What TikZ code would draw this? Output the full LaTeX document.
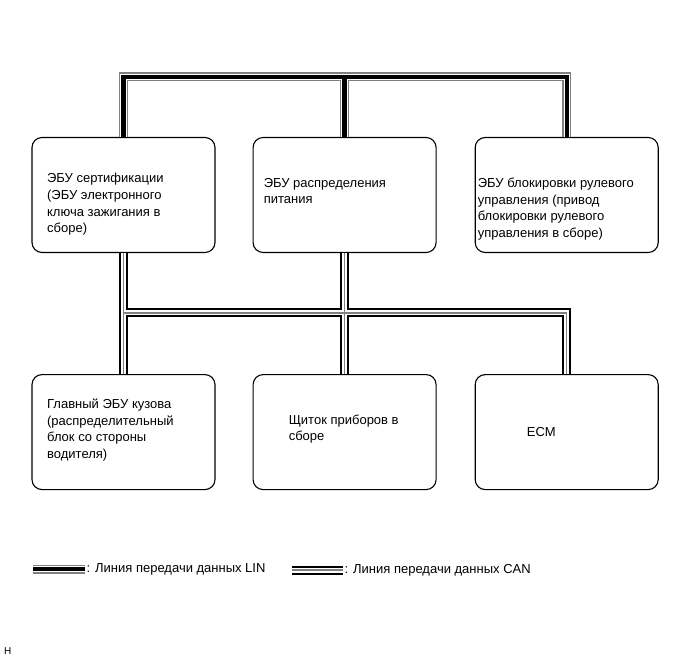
\documentclass[tikz,border=0pt]{standalone}
\usepackage{fontspec}
\setmainfont{Liberation Sans}
\usepackage{tikz}
\usetikzlibrary{positioning}

\tikzset{
  ecubox/.style={draw, rounded corners=10pt, line width=1.1pt, minimum width=183pt, minimum height=115pt, inner sep=0pt},
  ecutext/.style={align=left, inner sep=0pt, font=\fontsize{13}{16.6}\selectfont},
  linbus/.style={preaction={draw=black!50, line width=9pt}, preaction={draw=white, line width=6.4pt}, draw=black, line width=4.4pt},
  canbus/.style={preaction={draw=black, line width=9pt}, preaction={draw=white, line width=5pt}, draw=black!50, line width=1.5pt}
}

\begin{document}
\begin{tikzpicture}[x=1pt, y=-1pt]
    \useasboundingbox (0,0) rectangle (691,660);

    \node[ecubox] (cert) at (123.5,195) {};
    \node[ecubox, right=37pt of cert] (power) {};
    \node[ecubox, right=38pt of power] (lock) {};
    \node[ecubox, below=121pt of cert] (body) {};
    \node[ecubox, below=121pt of power] (meter) {};
    \node[ecubox, below=121pt of lock] (ecm) {};

    \node[ecutext, right=15.5pt of cert.west, yshift=-9.5pt] (certtxt) {ЭБУ сертификации\\(ЭБУ электронного\\ключа зажигания в\\сборе)};
    \node[ecutext, right=11pt of power.west, yshift=4pt] (powertxt) {ЭБУ распределения\\питания};
    \node[ecutext, right=3pt of lock.west, yshift=-14pt] (locktxt) {ЭБУ блокировки рулевого\\управления (привод\\блокировки рулевого\\управления в сборе)};
    \node[ecutext, right=15.5pt of body.west, yshift=2pt] (bodytxt) {Главный ЭБУ кузова\\(распределительный\\блок со стороны\\водителя)};
    \node[ecutext, right=36pt of meter.west, yshift=3pt] (metertxt) {Щиток приборов в\\сборе};
    \node[ecutext, right=52pt of ecm.west, yshift=0pt] (ecmtxt) {ECM};

    % bus LIN in alto, bus CAN in mezzo
    \coordinate (lin) at (345,77);
    \coordinate (can) at (345,313);
    \draw[linbus] (cert.north) |- (lin) -| (lock.north) (power.north) -- (power.north |- lin);
    \draw[canbus] (cert.south) -- (body.north) (power.south) -- (meter.north) (body.north |- can) -| (ecm.north);

    % legenda
    \coordinate (linA) at (33,569);
    \coordinate (linB) at (85,569);
    \draw[linbus] (linA) -- (linB);
    \node[ecutext, right=1.5pt of linB] (lintxt) {: Линия передачи данных LIN};
    \coordinate (canA) at (292,570);
    \coordinate (canB) at (343,570);
    \draw[canbus] (canA) -- (canB);
    \node[ecutext, right=1.5pt of canB] (cantxt) {: Линия передачи данных CAN};

    \node[font=\fontsize{10}{12}\selectfont, anchor=west, inner sep=0pt] (code) at (4,651) {Н};
\end{tikzpicture}
\end{document}
